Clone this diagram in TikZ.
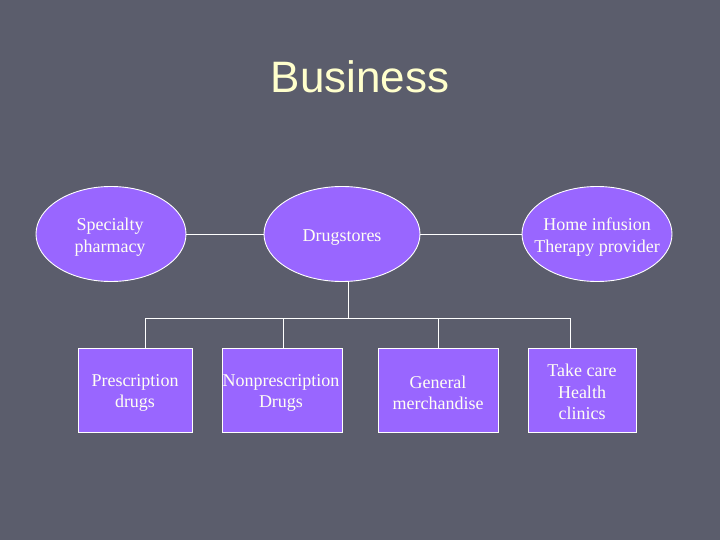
\documentclass[tikz,border=0pt]{standalone}
\usepackage{fontspec}
\setmainfont{Liberation Serif}
\newfontfamily\titlefont{Liberation Sans}
\usetikzlibrary{shapes.geometric}
\definecolor{bgc}{HTML}{5B5D6C}
\definecolor{boxc}{HTML}{9966FF}
\definecolor{txtc}{HTML}{FFFFF4}
\definecolor{ttlc}{HTML}{FFFFCC}
\tikzset{
  ell/.style={ellipse, draw=white, line width=0.9pt, fill=boxc, minimum width=150pt, minimum height=95pt, inner sep=0pt},
  lbl/.style={text=txtc, align=center, font=\fontsize{18}{21.5}\selectfont, inner sep=0pt},
  boxn/.style={rectangle, draw=white, line width=0.9pt, fill=boxc, minimum height=84pt, inner sep=0pt},
  conn/.style={draw=white, line width=0.9pt}
}
\begin{document}
\begin{tikzpicture}[x=1pt,y=-1pt]
\fill[bgc] (0,0) rectangle (720,540);
\useasboundingbox (0,0) rectangle (720,540);
\node[text=ttlc, font=\titlefont\fontsize{44}{50}\selectfont, inner sep=0pt, anchor=base] (title) at (360,93) {Business};

\node[ell] (spec) at (111,234) {};
\node[lbl] (spect) at (110,237) {Specialty\\pharmacy};
\node[ell, minimum width=156pt] (drug) at (342,234) {};
\node[lbl] (drugt) at (342,237.5) {Drugstores};
\node[ell] (home) at (597,234) {};
\node[lbl] (homet) at (597,237) {Home infusion\\Therapy provider};

\draw[conn] (spec.east) -- (drug.west);
\draw[conn] (drug.east) -- (home.west);

\node[boxn, minimum width=114pt] (b1) at (135,390) {};
\node[lbl] (b1t) at (135,393) {Prescription\\drugs};
\node[boxn, minimum width=120pt] (b2) at (282,390) {};
\node[lbl] (b2t) at (281,393) {Nonprescription\\Drugs};
\node[boxn, minimum width=120pt] (b3) at (438,390) {};
\node[lbl] (b3t) at (438,393) {General\\merchandise};
\node[boxn, minimum width=108pt] (b4) at (582,390) {};
\node[lbl] (b4t) at (582,392) {Take care\\Health\\clinics};

\coordinate (j) at (348,318);
\coordinate (d1) at (145,318);
\coordinate (d2) at (283,318);
\coordinate (d3) at (438,318);
\coordinate (d4) at (570,318);
\draw[conn] (j) -- (j |- drug.south);
\draw[conn] (d1) -- (d4);
\draw[conn] (d1) -- (d1 |- b1.north);
\draw[conn] (d2) -- (d2 |- b2.north);
\draw[conn] (d3) -- (d3 |- b3.north);
\draw[conn] (d4) -- (d4 |- b4.north);
\end{tikzpicture}
\end{document}
